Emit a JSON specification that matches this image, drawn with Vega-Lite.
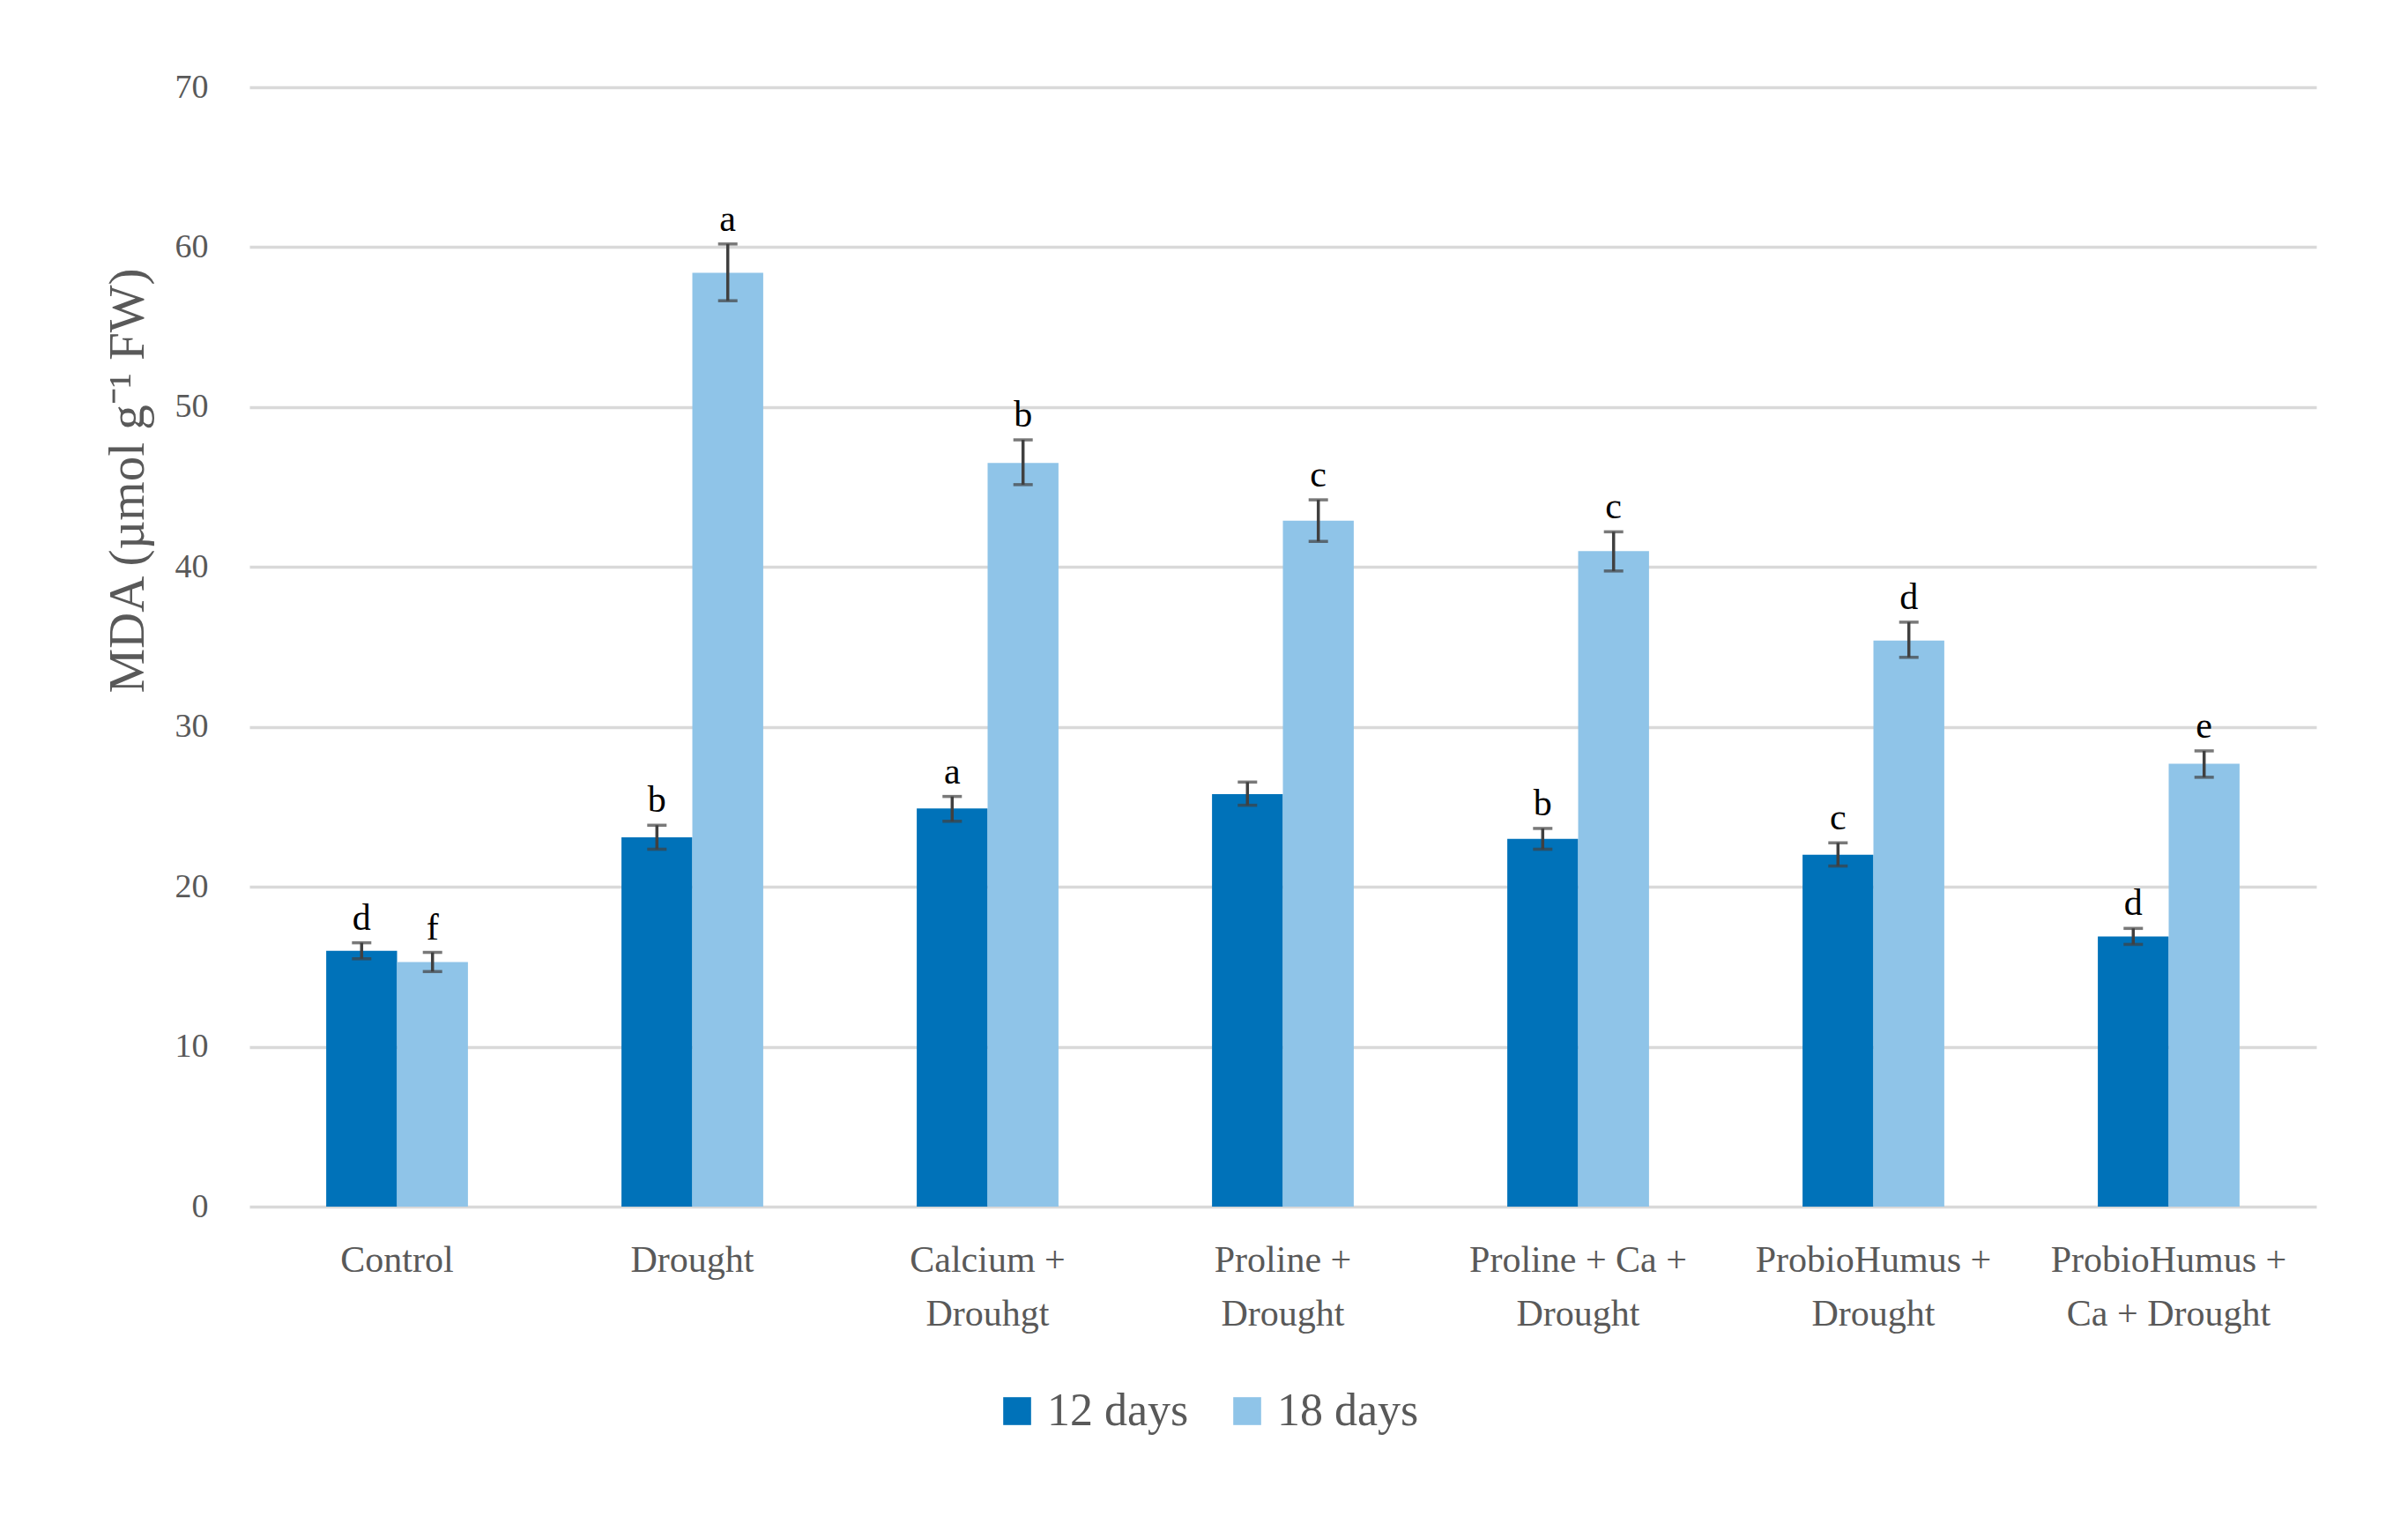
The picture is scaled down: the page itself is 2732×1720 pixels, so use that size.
{
  "$schema": "https://vega.github.io/schema/vega-lite/v6.json",
  "width": 2345,
  "height": 1270,
  "padding": {"left": 116, "top": 80, "right": 100, "bottom": 40},
  "background": "white",
  "data": {
    "values": [
      {"treatment": "Control", "period": "12 days", "value": 16.0, "lo": 15.5, "hi": 16.5, "letter": "d"},
      {"treatment": "Control", "period": "18 days", "value": 15.3, "lo": 14.7, "hi": 15.9, "letter": "f"},
      {"treatment": "Drought", "period": "12 days", "value": 23.1, "lo": 22.35, "hi": 23.85, "letter": "b"},
      {"treatment": "Drought", "period": "18 days", "value": 58.4, "lo": 56.65, "hi": 60.2, "letter": "a"},
      {"treatment": "Calcium + Drouhgt", "period": "12 days", "value": 24.9, "lo": 24.1, "hi": 25.65, "letter": "a"},
      {"treatment": "Calcium + Drouhgt", "period": "18 days", "value": 46.5, "lo": 45.15, "hi": 47.95, "letter": "b"},
      {"treatment": "Proline + Drought", "period": "12 days", "value": 25.8, "lo": 25.1, "hi": 26.55, "letter": ""},
      {"treatment": "Proline + Drought", "period": "18 days", "value": 42.9, "lo": 41.6, "hi": 44.2, "letter": "c"},
      {"treatment": "Proline + Ca + Drought", "period": "12 days", "value": 23.0, "lo": 22.35, "hi": 23.65, "letter": "b"},
      {"treatment": "Proline + Ca + Drought", "period": "18 days", "value": 41.0, "lo": 39.75, "hi": 42.2, "letter": "c"},
      {"treatment": "ProbioHumus + Drought", "period": "12 days", "value": 22.0, "lo": 21.3, "hi": 22.75, "letter": "c"},
      {"treatment": "ProbioHumus + Drought", "period": "18 days", "value": 35.4, "lo": 34.35, "hi": 36.55, "letter": "d"},
      {"treatment": "ProbioHumus + Ca + Drought", "period": "12 days", "value": 16.9, "lo": 16.4, "hi": 17.4, "letter": "d"},
      {"treatment": "ProbioHumus + Ca + Drought", "period": "18 days", "value": 27.7, "lo": 26.85, "hi": 28.5, "letter": "e"}
    ]
  },
  "encoding": {
    "x": {
      "field": "treatment",
      "type": "nominal",
      "sort": ["Control", "Drought", "Calcium + Drouhgt", "Proline + Drought", "Proline + Ca + Drought", "ProbioHumus + Drought", "ProbioHumus + Ca + Drought"],
      "scale": {"paddingInner": 0.52, "paddingOuter": 0.26},
      "axis": {
        "title": null,
        "labelAngle": 0,
        "domain": false,
        "ticks": false,
        "labelFont": "Liberation Serif",
        "labelFontSize": 42,
        "labelColor": "#595959",
        "labelPadding": 40,
        "labelLineHeight": 61,
        "labelBaseline": "top",
        "labelLimit": 0,
        "labelExpr": "datum.label == 'Calcium + Drouhgt' ? ['Calcium +', 'Drouhgt'] : datum.label == 'Proline + Drought' ? ['Proline +', 'Drought'] : datum.label == 'Proline + Ca + Drought' ? ['Proline + Ca +', 'Drought'] : datum.label == 'ProbioHumus + Drought' ? ['ProbioHumus +', 'Drought'] : datum.label == 'ProbioHumus + Ca + Drought' ? ['ProbioHumus +', 'Ca + Drought'] : datum.label"
      }
    },
    "xOffset": {
      "field": "period",
      "type": "nominal",
      "sort": ["12 days", "18 days"],
      "scale": {"paddingInner": 0, "paddingOuter": 0}
    }
  },
  "layer": [
    {
      "mark": {"type": "bar"},
      "encoding": {
        "y": {
          "field": "value",
          "type": "quantitative",
          "scale": {"domain": [0, 70], "nice": false},
          "axis": {
            "title": "MDA (µmol g⁻¹ FW)",
            "titleFont": "Liberation Serif",
            "titleFontSize": 57,
            "titleFontWeight": "normal",
            "titleColor": "#595959",
            "titlePadding": 24,
            "titleY": 446,
            "values": [0, 10, 20, 30, 40, 50, 60, 70],
            "domain": false,
            "ticks": false,
            "grid": true,
            "gridColor": "#d9d9d9",
            "gridWidth": 3.5,
            "labelFont": "Liberation Serif",
            "labelFontSize": 38,
            "labelColor": "#595959",
            "labelPadding": 47
          }
        },
        "color": {
          "field": "period",
          "type": "nominal",
          "scale": {"domain": ["12 days", "18 days"], "range": ["#0072b9", "#8fc4e8"]},
          "legend": {
            "title": null,
            "orient": "none",
            "legendX": 845,
            "legendY": 1476,
            "direction": "horizontal",
            "symbolType": "square",
            "symbolSize": 1000,
            "symbolStrokeWidth": 0,
            "labelFont": "Liberation Serif",
            "labelFontSize": 52,
            "labelColor": "#595959",
            "labelLimit": 0,
            "columnPadding": 40,
            "labelOffset": 8
          }
        }
      }
    },
    {
      "mark": {"type": "rule", "color": "#404040", "strokeWidth": 3.5},
      "encoding": {
        "y": {"field": "lo", "type": "quantitative"},
        "y2": {"field": "hi"}
      }
    },
    {
      "mark": {"type": "tick", "color": "#404040", "thickness": 3.5, "size": 22, "orient": "horizontal"},
      "encoding": {"y": {"field": "lo", "type": "quantitative"}}
    },
    {
      "mark": {"type": "tick", "color": "#404040", "thickness": 3.5, "size": 22, "orient": "horizontal"},
      "encoding": {"y": {"field": "hi", "type": "quantitative"}}
    },
    {
      "mark": {"type": "text", "font": "Liberation Serif", "fontSize": 42, "color": "#000000", "baseline": "bottom", "dy": -6},
      "encoding": {
        "y": {"field": "hi", "type": "quantitative"},
        "text": {"field": "letter"}
      }
    }
  ],
  "config": {
    "view": {"stroke": null},
    "axis": {"gridColor": "#d9d9d9"}
  }
}
